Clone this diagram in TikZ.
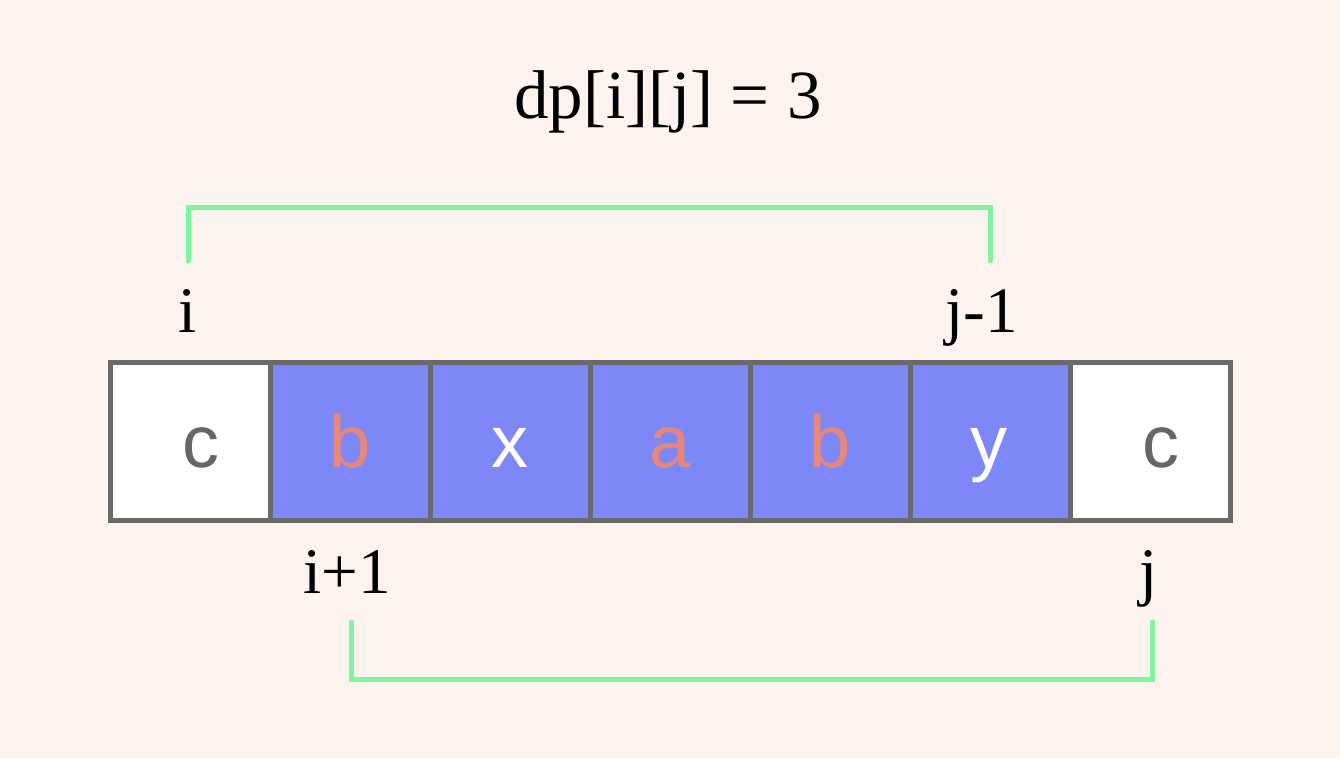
\documentclass[tikz,border=0pt]{standalone}
\usepackage{fontspec}
\setmainfont{Liberation Serif}
\newfontfamily\cellfont{Liberation Sans}
\definecolor{bg}{HTML}{FCF2EE}
\definecolor{cellblue}{HTML}{7E87F8}
\definecolor{edgegray}{HTML}{6A6A6A}
\definecolor{salmon}{HTML}{E8867A}
\definecolor{textgray}{HTML}{666666}
\definecolor{brgreen}{HTML}{80F5A0}
\tikzset{
  cellbox/.style={draw=edgegray, line width=5pt, minimum width=160pt, minimum height=158pt, inner sep=0pt, anchor=center},
  white cell/.style={cellbox, fill=white},
  blue cell/.style={cellbox, fill=cellblue},
  letter/.style={font=\cellfont\fontsize{74}{74}\selectfont, anchor=base, inner sep=0pt},
  idxlabel/.style={font=\fontsize{65}{65}\selectfont, anchor=base, inner sep=0pt},
  bracketline/.style={draw=brgreen, line width=5pt, line cap=round, line join=miter}
}
\begin{document}
\begin{tikzpicture}[x=1pt,y=-1pt]
\fill[bg] (0,0) rectangle (1340,758);
\useasboundingbox (0,0) rectangle (1340,758);
% title
\node[font=\fontsize{69}{69}\selectfont, anchor=base, inner sep=0pt] (title) at (668,118) {dp[i][j] = 3};
% cells
\node[white cell] (c1) at (190,441) {};
\node[blue cell] (c2) at (350,441) {};
\node[blue cell] (c3) at (510,441) {};
\node[blue cell] (c4) at (670,441) {};
\node[blue cell] (c5) at (830,441) {};
\node[blue cell] (c6) at (990,441) {};
\node[white cell] (c7) at (1150,441) {};
% letters
\node[letter, text=textgray] (l1) at (201,467) {c};
\node[letter, text=salmon] (l2) at (350,467) {b};
\node[letter, text=white] (l3) at (510,467) {x};
\node[letter, text=salmon] (l4) at (670,467) {a};
\node[letter, text=salmon] (l5) at (830,467) {b};
\node[letter, text=white] (l6) at (989,467) {y};
\node[letter, text=textgray] (l7) at (1161,467) {c};
% index labels
\node[idxlabel] (li) at (188,332) {i};
\node[idxlabel] (ljm) at (982,332) {j-1};
\node[idxlabel] (lip) at (347,593) {i+1};
\node[idxlabel] (lj) at (1149,593) {j};
% brackets
\coordinate (ta) at (188,261);
\coordinate (tb) at (990,261);
\coordinate (ba) at (351,622);
\coordinate (bb) at (1152,622);
\draw[bracketline] (ta) -- (ta |- 0,207) -- (tb |- 0,207) -- (tb);
\draw[bracketline] (ba) -- (ba |- 0,679) -- (bb |- 0,679) -- (bb);
\end{tikzpicture}
\end{document}
